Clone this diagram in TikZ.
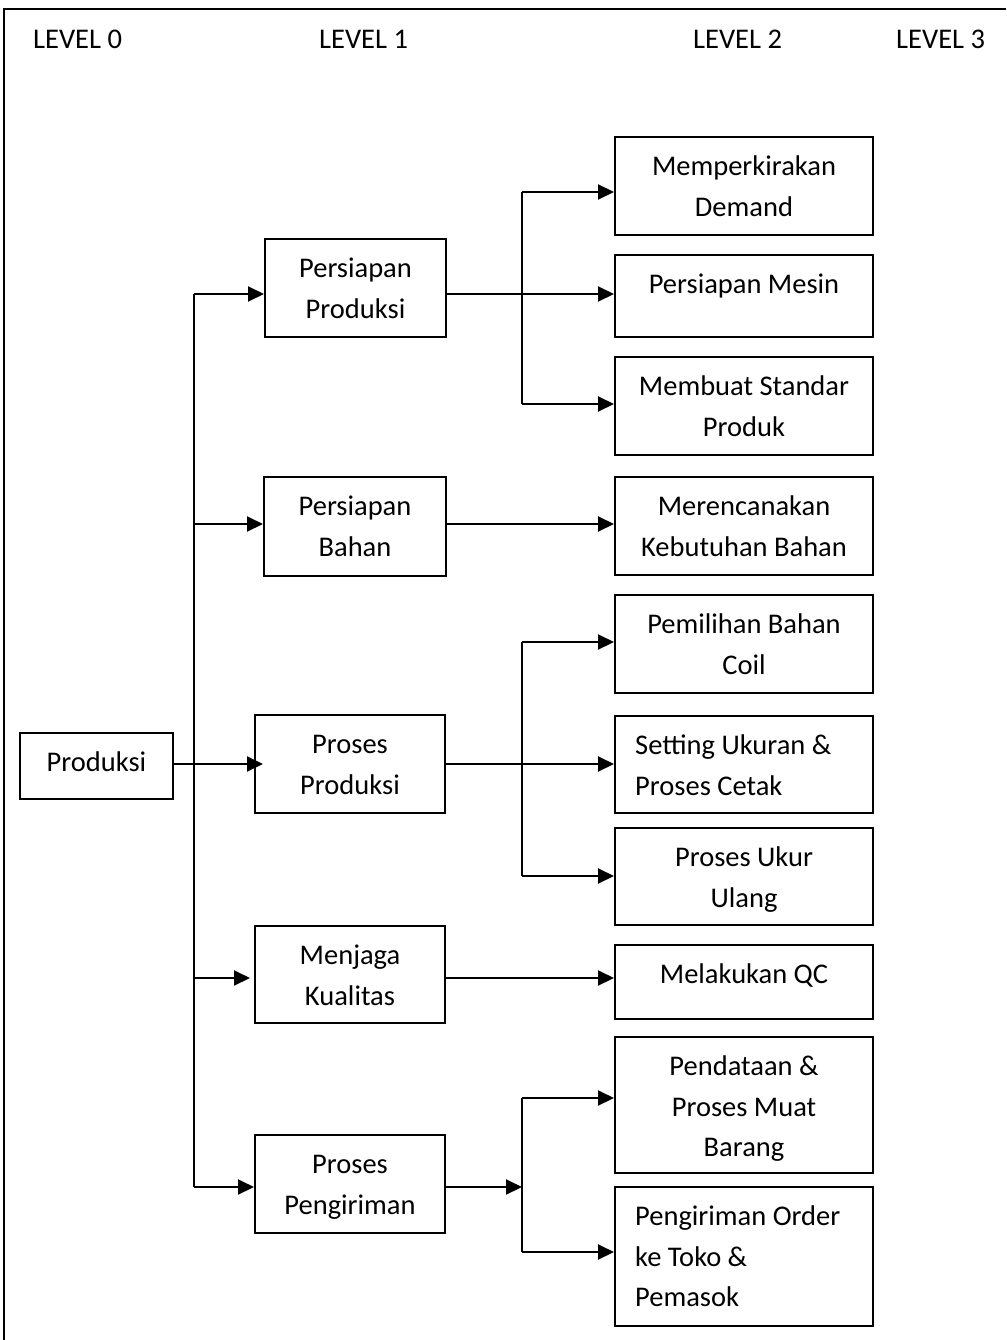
\documentclass[tikz,border=0pt]{standalone}
\usepackage{fontspec}
\setmainfont{Carlito}
\usetikzlibrary{arrows.meta}
\begin{document}
\begin{tikzpicture}[x=1pt,y=-1pt,
  every node/.style={font=\fontsize{28.5}{40.5}\selectfont, inner sep=0pt},
  blok/.style={draw, line width=2pt, anchor=north west},
  teks/.style={anchor=north, align=center},
  tekskiri/.style={anchor=north west, align=left},
  garis/.style={line width=2pt},
  pijl/.style={garis, -{Triangle[length=16pt,width=15pt]}}]
\useasboundingbox (0,0) rectangle (1006,1340);

% outer frame
\draw[line width=2pt] (1006,9) -- (4,9) -- (4,1340);

% column headings
\node[anchor=base west] (lv0) at (33,49) {LEVEL 0};
\node[anchor=base west] (lv1) at (319,49) {LEVEL 1};
\node[anchor=base west] (lv2) at (693,49) {LEVEL 2};
\node[anchor=base west] (lv3) at (896,49) {LEVEL 3};

% level 0
\node[blok, minimum width=153, minimum height=66] (p0) at (19,732) {};
\node[teks] (p0t) at ([yshift=-11pt]p0.north) {\strut Produksi};

% level 1
\node[blok, minimum width=181, minimum height=98] (l1a) at (264,238) {};
\node[teks] (l1at) at ([yshift=-11pt]l1a.north) {\strut Persiapan\\Produksi};
\node[blok, minimum width=182, minimum height=99] (l1b) at (263,476) {};
\node[teks] (l1bt) at ([yshift=-11pt]l1b.north) {\strut Persiapan\\Bahan};
\node[blok, minimum width=190, minimum height=98] (l1c) at (254,714) {};
\node[teks] (l1ct) at ([yshift=-11pt]l1c.north) {\strut Proses\\Produksi};
\node[blok, minimum width=190, minimum height=97] (l1d) at (254,925) {};
\node[teks] (l1dt) at ([yshift=-11pt]l1d.north) {\strut Menjaga\\Kualitas};
\node[blok, minimum width=190, minimum height=98] (l1e) at (254,1134) {};
\node[teks] (l1et) at ([yshift=-11pt]l1e.north) {\strut Proses\\Pengiriman};

% level 2
\node[blok, minimum width=258, minimum height=98] (l2a) at (614,136) {};
\node[teks] (l2at) at ([yshift=-11pt]l2a.north) {\strut Memperkirakan\\Demand};
\node[blok, minimum width=258, minimum height=82] (l2b) at (614,254) {};
\node[teks] (l2bt) at ([yshift=-11pt]l2b.north) {\strut Persiapan Mesin};
\node[blok, minimum width=258, minimum height=98] (l2c) at (614,356) {};
\node[teks] (l2ct) at ([yshift=-11pt]l2c.north) {\strut Membuat Standar\\Produk};
\node[blok, minimum width=258, minimum height=98] (l2d) at (614,476) {};
\node[teks] (l2dt) at ([yshift=-11pt]l2d.north) {\strut Merencanakan\\Kebutuhan Bahan};
\node[blok, minimum width=258, minimum height=98] (l2e) at (614,594) {};
\node[teks] (l2et) at ([yshift=-11pt]l2e.north) {\strut Pemilihan Bahan\\Coil};
\node[blok, minimum width=258, minimum height=97] (l2f) at (614,715) {};
\node[tekskiri] (l2ft) at ([xshift=21pt,yshift=-11pt]l2f.north west) {\strut Setting Ukuran \&\\Proses Cetak};
\node[blok, minimum width=258, minimum height=97] (l2g) at (614,827) {};
\node[teks] (l2gt) at ([yshift=-11pt]l2g.north) {\strut Proses Ukur\\Ulang};
\node[blok, minimum width=258, minimum height=74] (l2h) at (614,944) {};
\node[teks] (l2ht) at ([yshift=-11pt]l2h.north) {\strut Melakukan QC};
\node[blok, minimum width=258, minimum height=136] (l2i) at (614,1036) {};
\node[teks] (l2it) at ([yshift=-11pt]l2i.north) {\strut Pendataan \&\\Proses Muat\\Barang};
\node[blok, minimum width=258, minimum height=139] (l2j) at (614,1186) {};
\node[tekskiri] (l2jt) at ([xshift=21pt,yshift=-11pt]l2j.north west) {\strut Pengiriman Order\\ke Toko \&\\Pemasok};

% junction points on the main trunk
\coordinate (t1) at (194,294);
\coordinate (t2) at (194,524);
\coordinate (t3) at (194,764);
\coordinate (t4) at (194,978);
\coordinate (t5) at (194,1187);

% branch points between level 1 and level 2
\coordinate (b1) at (522,192);
\coordinate (b2) at (522,404);
\coordinate (b3) at (522,642);
\coordinate (b4) at (522,876);
\coordinate (b5) at (522,1187);
\coordinate (b6) at (522,1098);
\coordinate (b7) at (522,1252);

% level 0 -> level 1
\draw[garis] (t1) -- (t5);
\draw[pijl] (t1) -- (t1 -| l1a.west);
\draw[pijl] (t2) -- (t2 -| l1b.west);
\draw[pijl] (t3 -| p0.east) -- ([xshift=9pt]t3 -| l1c.west);
\draw[pijl] (t4) -- ([xshift=-4pt]t4 -| l1d.west);
\draw[pijl] (t5) -- (t5 -| l1e.west);

% Persiapan Produksi -> level 2
\draw[pijl] (t1 -| l1a.east) -- (t1 -| l2b.west);
\draw[garis] (b1) -- (b2);
\draw[pijl] (b1) -- (b1 -| l2a.west);
\draw[pijl] (b2) -- (b2 -| l2c.west);

% Persiapan Bahan -> level 2
\draw[pijl] (t2 -| l1b.east) -- (t2 -| l2d.west);

% Proses Produksi -> level 2
\draw[pijl] (t3 -| l1c.east) -- (t3 -| l2f.west);
\draw[garis] (b3) -- (b4);
\draw[pijl] (b3) -- (b3 -| l2e.west);
\draw[pijl] (b4) -- (b4 -| l2g.west);

% Menjaga Kualitas -> level 2
\draw[pijl] (t4 -| l1d.east) -- (t4 -| l2h.west);

% Proses Pengiriman -> level 2
\draw[pijl] (t5 -| l1e.east) -- (b5);
\draw[garis] (b6) -- (b7);
\draw[pijl] (b6) -- (b6 -| l2i.west);
\draw[pijl] (b7) -- (b7 -| l2j.west);
\end{tikzpicture}
\end{document}
